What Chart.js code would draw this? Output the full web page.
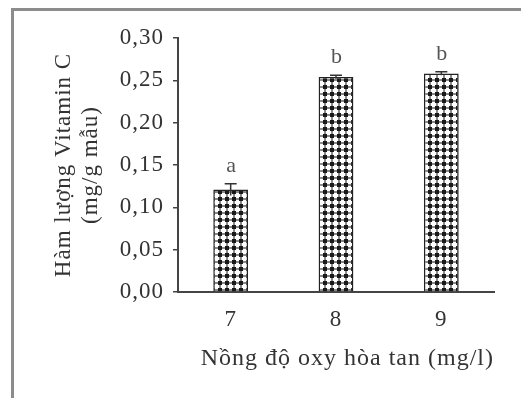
<!DOCTYPE html>
<html>
<head>
<meta charset="utf-8">
<script src="https://cdn.jsdelivr.net/npm/chart.js@4"></script>
<style>
  body { margin: 0; background: #fff; }
  #wrap { position: relative; width: 521px; height: 398px; }
  #frame {
    position: absolute; left: 11px; top: 8px; width: 510px; height: 390px;
    border-left: 3px solid #8c8c8c; border-top: 3px solid #8c8c8c;
    box-sizing: border-box; pointer-events: none;
  }
  #vitc { position: absolute; left: 0; top: 0; }
</style>
</head>
<body>
<div id="wrap">
  <div id="frame"></div>
  <canvas id="vitc" width="521" height="398"></canvas>
</div>
<script>
const doLevels = ["7", "8", "9"];
const vitaminC = [0.121, 0.254, 0.258];
const vitaminCErr = [0.007, 0.002, 0.002];
const sigLetters = ["a", "b", "b"];
const yTickLabels = ["0,00", "0,05", "0,10", "0,15", "0,20", "0,25", "0,30"];

const serif = "'Liberation Serif', 'Times New Roman', serif";
const ink = "#333";

// dotted fill used for the bars
function dotPattern() {
  const tile = document.createElement("canvas");
  tile.width = 7;
  tile.height = 7;
  const t = tile.getContext("2d");
  t.fillStyle = "#fff";
  t.fillRect(0, 0, 7, 7);
  t.fillStyle = "#888";
  t.fillRect(5, 2, 2, 2);
  t.fillRect(0, 2, 1, 2);
  t.fillRect(2, 5, 2, 2);
  t.fillRect(2, 0, 2, 1);
  t.fillStyle = "#1a1a1a";
  t.fillRect(1, 1, 4, 4);
  return t.createPattern(tile, "repeat");
}

// the scanned figure uses slightly wide letter spacing
const spacing = {
  id: "spacing",
  beforeUpdate(chart) { chart.ctx.letterSpacing = "1px"; },
  beforeDraw(chart) { chart.ctx.letterSpacing = "1px"; },
};

// error bars and significance letters
const errorBars = {
  id: "errorBars",
  afterDatasetsDraw(chart) {
    const { ctx } = chart;
    const y = chart.scales.y;
    const meta = chart.getDatasetMeta(0);
    meta.data.forEach((bar, i) => {
      const top = y.getPixelForValue(vitaminC[i] + vitaminCErr[i]);
      const bottom = y.getPixelForValue(vitaminC[i] - vitaminCErr[i]);
      ctx.save();
      ctx.strokeStyle = "#333";
      ctx.lineWidth = 1.5;
      ctx.beginPath();
      ctx.moveTo(bar.x, bottom);
      ctx.lineTo(bar.x, top);
      ctx.moveTo(bar.x - 6, top);
      ctx.lineTo(bar.x + 6, top);
      ctx.stroke();
      ctx.fillStyle = "#555";
      ctx.font = "22px " + serif;
      ctx.textAlign = "center";
      ctx.textBaseline = "alphabetic";
      ctx.fillText(sigLetters[i], bar.x + 1, top - 12);
      ctx.restore();
    });
  },
};

const ctx = document.getElementById("vitc");

new Chart(ctx, {
  type: "bar",
  data: {
    labels: doLevels,
    datasets: [
      {
        data: vitaminC,
        backgroundColor: dotPattern(),
        borderColor: "#222",
        borderWidth: 1.5,
        barPercentage: 0.33,
        categoryPercentage: 1,
      },
    ],
  },
  options: {
    responsive: false,
    animation: false,
    layout: { padding: { left: 40, top: 38, right: 27, bottom: 20 } },
    plugins: {
      legend: { display: false },
      tooltip: { enabled: false },
    },
    scales: {
      x: {
        grid: { drawOnChartArea: false, drawTicks: false },
        border: { display: true, color: "#444", width: 2 },
        ticks: {
          color: ink,
          padding: 14,
          font: { family: serif, size: 23 },
        },
        title: {
          display: true,
          text: "Nồng độ oxy hòa tan (mg/l)",
          color: ink,
          align: "end",
          padding: { top: 0, bottom: 5 },
          font: { family: serif, size: 24 },
        },
        afterFit(scale) { scale.height = 86; },
      },
      y: {
        min: 0,
        max: 0.3,
        grid: { drawOnChartArea: false, drawTicks: true, tickLength: 5, color: "#444", lineWidth: 1.5 },
        border: { display: true, color: "#444", width: 2 },
        ticks: {
          stepSize: 0.05,
          color: ink,
          padding: 9,
          font: { family: serif, size: 23 },
          callback: (value, index) => yTickLabels[index],
        },
        title: {
          display: true,
          text: ["Hàm lượng Vitamin C", "(mg/g mẫu)"],
          color: ink,
          padding: { top: 10, bottom: 0 },
          font: { family: serif, size: 23 },
        },
        afterFit(scale) { scale.width = 138; },
      },
    },
  },
  plugins: [spacing, errorBars],
});
</script>
</body>
</html>
